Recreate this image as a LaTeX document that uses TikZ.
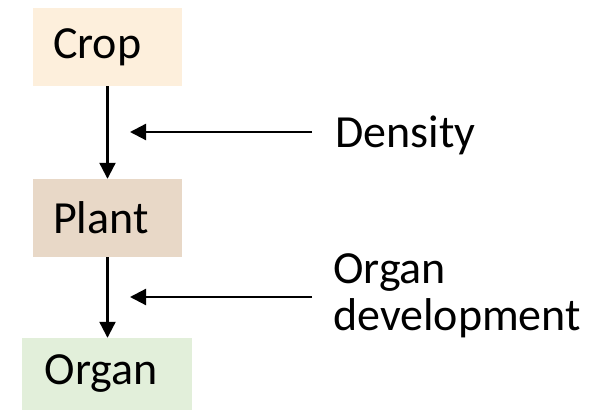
\documentclass[tikz,border=0pt]{standalone}
\usepackage{fontspec}
\setmainfont{Carlito}
\usetikzlibrary{arrows.meta,calc}
\definecolor{cropfill}{HTML}{FDEFDC}
\definecolor{plantfill}{HTML}{E8D8C7}
\definecolor{organfill}{HTML}{E2EFDA}
\begin{document}
\begin{tikzpicture}[x=1pt,y=-1pt,
  every node/.style={font=\fontsize{46}{47}\selectfont, inner sep=0pt},
  level/.style={inner xsep=20pt, text width=109pt, align=left,
    minimum height=78pt, anchor=center},
  flow/.style={line width=2.2pt, -{Triangle[width=16pt,length=16pt]}}]
  \useasboundingbox (0,0) rectangle (606,411);
  % hierarchy levels
  \node[level, fill=cropfill] (crop) at (107.5,47) {Crop};
  \node[level, fill=plantfill] (plant) at (107.5,218) {Plant};
  \node[level, fill=organfill, inner xsep=23pt, text width=124pt,
    minimum height=72pt] (organ) at (107,374) {Organ};
  % influencing factors
  \node[anchor=base west] (density) at (335,148) {Density};
  \node[anchor=base west] (orglbl) at (333,284) {Organ};
  \node[anchor=base west] (devlbl) at (333,331) {development};
  % vertical flow
  \draw[flow] (crop.south) -- (plant.north);
  \draw[flow] (plant.south) -- (plant.south |- organ.north);
  % factor arrows pointing at the flow lines
  \coordinate (dtip) at (130,132);
  \coordinate (otip) at (130,297);
  \draw[flow] (312,132) -- (dtip);
  \draw[flow] (312,297) -- (otip);
\end{tikzpicture}
\end{document}
